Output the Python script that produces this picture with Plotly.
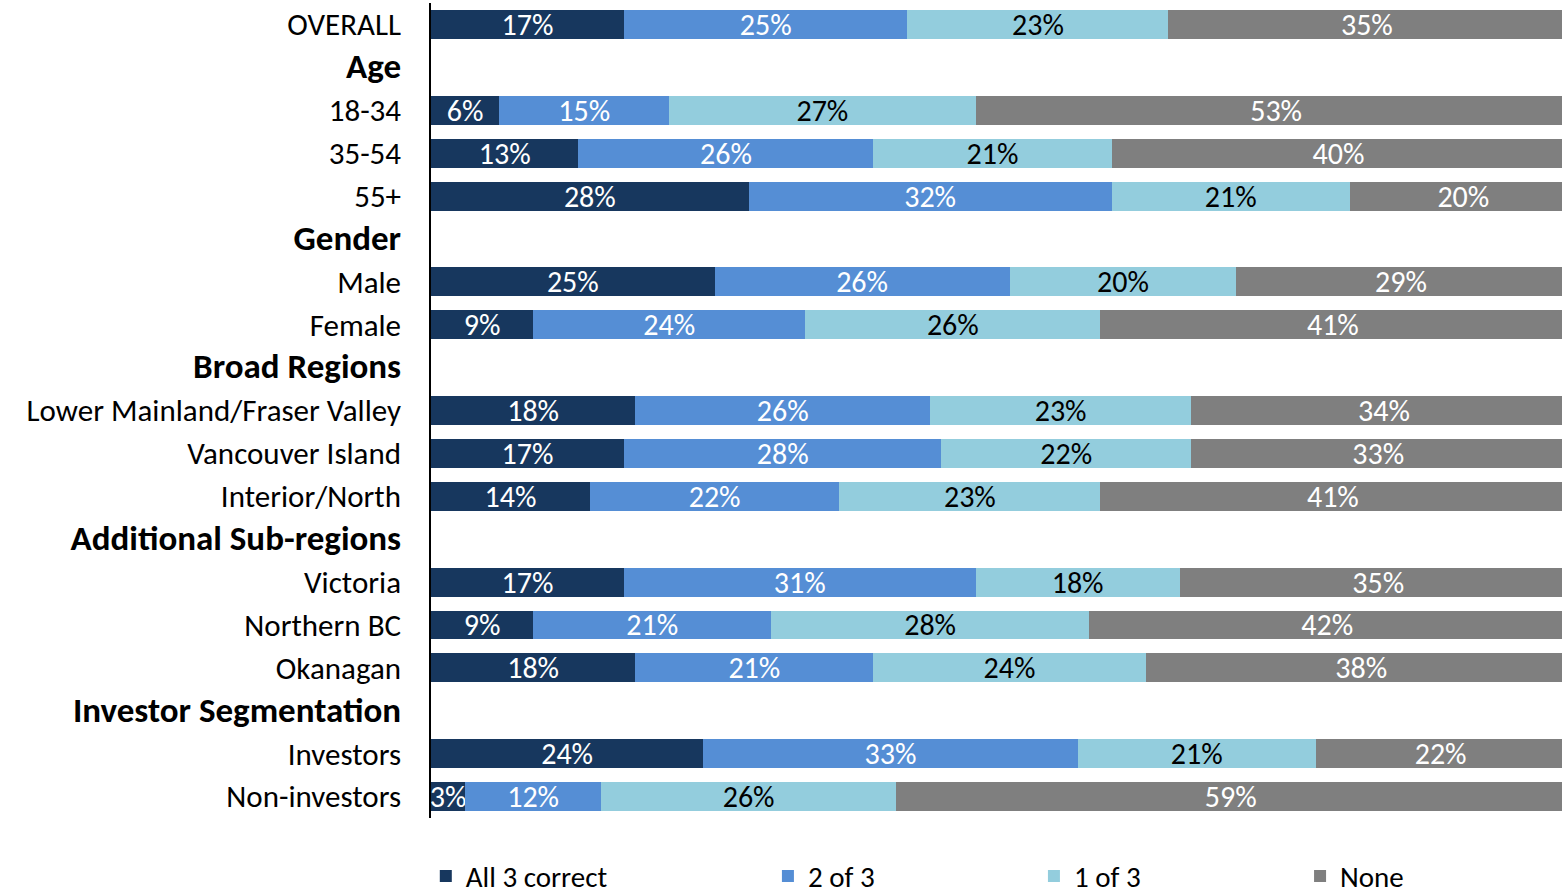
import plotly.graph_objects as go

categories = ["OVERALL", "Age", "18-34", "35-54", "55+", "Gender", "Male", "Female",
              "Broad Regions", "Lower Mainland/Fraser Valley", "Vancouver Island", "Interior/North",
              "Additional Sub-regions", "Victoria", "Northern BC", "Okanagan",
              "Investor Segmentation", "Investors", "Non-investors"]
headers = ["Age", "Gender", "Broad Regions", "Additional Sub-regions", "Investor Segmentation"]

all3 = [17, None, 6, 13, 28, None, 25, 9, None, 18, 17, 14, None, 17, 9, 18, None, 24, 3]
two3 = [25, None, 15, 26, 32, None, 26, 24, None, 26, 28, 22, None, 31, 21, 21, None, 33, 12]
one3 = [23, None, 27, 21, 21, None, 20, 26, None, 23, 22, 23, None, 18, 28, 24, None, 21, 26]
none = [35, None, 53, 40, 20, None, 29, 41, None, 34, 33, 41, None, 35, 42, 38, None, 22, 59]

series = [("All 3 correct", all3, "#17375E", "white"),
          ("2 of 3", two3, "#558ED5", "white"),
          ("1 of 3", one3, "#93CDDD", "black"),
          ("None", none, "#7F7F7F", "white")]

legend_x = [-0.0046, 0.2979, 0.5331, 0.7684]

FONT = "Carlito, Calibri, Lato, sans-serif"

ticktext = [f"<span style='font-size:35px'><b>{c}</b></span>" if c in headers else c for c in categories]

fig = go.Figure()
for i, (name, vals, color, tcolor) in enumerate(series):
    fig.add_trace(go.Bar(
        name=name, y=categories, x=vals, orientation="h",
        marker=dict(color=color, line=dict(width=0)),
        text=[f"{v}%" if v is not None else "" for v in vals],
        textposition="inside", insidetextanchor="middle", textangle=0,
        textfont=dict(color=tcolor, size=30, family=FONT),
        legend="legend" if i == 0 else f"legend{i+1}",
        showlegend=True,
        hoverinfo="skip",
    ))

layout_legends = {}
for i, lx in enumerate(legend_x):
    key = "legend" if i == 0 else f"legend{i+1}"
    layout_legends[key] = dict(x=lx, y=-0.1026, xanchor="left", yanchor="bottom",
                               orientation="h", font=dict(size=29, family=FONT, color="black"),
                               itemwidth=30, bgcolor="rgba(0,0,0,0)")

fig.update_layout(
    width=1562, height=896,
    barmode="stack", bargap=0.325,
    plot_bgcolor="white", paper_bgcolor="white",
    margin=dict(l=431, r=0, t=3, b=78, autoexpand=False),
    uniformtext=dict(minsize=29, mode="show"),
    font=dict(family=FONT, color="black"),
    showlegend=True,
    **layout_legends,
)
fig.update_xaxes(range=[0, 99.7], showticklabels=False, showgrid=False, zeroline=False,
                 showline=False, automargin=False)
fig.update_yaxes(categoryorder="array", categoryarray=categories, autorange="reversed",
                 tickmode="array", tickvals=categories, ticktext=ticktext,
                 showline=True, linecolor="black", linewidth=1.5, automargin=False,
                 ticks="", ticklabelstandoff=22, tickfont=dict(size=31, family=FONT, color="black"),
                 showgrid=False)

fig.write_html("out.html", config={"displayModeBar": False},
               post_script="document.body.style.margin='0';document.body.style.overflow='hidden';")
